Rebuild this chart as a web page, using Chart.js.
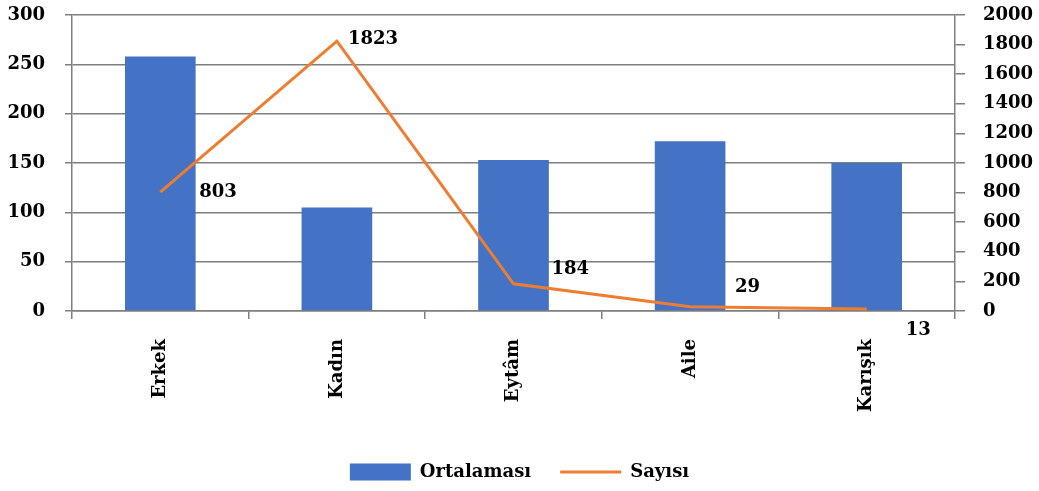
<!DOCTYPE html>
<html>
<head>
<meta charset="utf-8">
<script src="https://cdn.jsdelivr.net/npm/chart.js@4/dist/chart.umd.min.js"></script>
<style>
  body { margin: 0; background: #fff; }
  #wrap { width: 1039px; height: 491px; }
</style>
</head>
<body>
<div id="wrap"><canvas id="chart" width="1039" height="491"></canvas></div>
<script>
const categories = ["Erkek", "Kadın", "Eytâm", "Aile", "Karışık"]
const ortalamasi = [258, 105, 153, 172, 150]
const sayisi = [803, 1823, 184, 29, 13]
const leftTicks = [0, 50, 100, 150, 200, 250, 300]
const rightTicks = [0, 200, 400, 600, 800, 1000, 1200, 1400, 1600, 1800, 2000]

const fontFamily = "'DejaVu Serif', 'Liberation Serif', serif"
const gridGray = "#7f7f7f"

// value labels for the line, nudged like in the original
const lineLabels = {
    id: "lineLabels",
    afterDatasetsDraw(chart, args, opts) {
        const meta = chart.getDatasetMeta(1)
        const ctx = chart.ctx
        ctx.save()
        ctx.font = "bold 18px " + fontFamily
        ctx.fillStyle = "#000"
        ctx.textAlign = "left"
        ctx.textBaseline = "middle"
        meta.data.forEach((pt, i) => {
            const off = opts.offsets[i]
            ctx.fillText(String(sayisi[i]), pt.x + off[0], pt.y + off[1])
        })
        ctx.restore()
    }
}

function fixSide(width) {
    return scale => {
        scale.width = width
        scale.paddingTop = 0
        scale.paddingBottom = 0
    }
}

new Chart(document.getElementById("chart"), {
    data: {
        labels: categories,
        datasets: [{
            type: "bar",
            label: "Ortalaması",
            data: ortalamasi,
            backgroundColor: "#4472C4",
            yAxisID: "y",
            barPercentage: 0.4,
            categoryPercentage: 1,
            pointStyle: "rect",
            order: 2
        },
        {
            type: "line",
            label: "Sayısı",
            data: sayisi,
            borderColor: "#ED7D31",
            backgroundColor: "#ED7D31",
            borderWidth: 3,
            pointRadius: 0,
            pointStyle: "line",
            tension: 0,
            yAxisID: "y1",
            order: 1
        }]
    },
    options: {
        responsive: false,
        animation: false,
        layout: { padding: { top: 15, bottom: 0, left: 0, right: 0 } },
        scales: {
            x: {
                grid: { offset: true, drawOnChartArea: false, color: gridGray, lineWidth: 1.5, tickLength: 8 },
                border: { color: gridGray, width: 1.5 },
                ticks: {
                    maxRotation: 90, minRotation: 90, padding: 20,
                    color: "#000",
                    font: { family: fontFamily, weight: "bold", size: 18 }
                },
                afterFit(scale) { scale.height = 123 }
            },
            y: {
                position: "left",
                min: 0, max: 300,
                afterBuildTicks(scale) { scale.ticks = leftTicks.map(v => ({ value: v })) },
                grid: { color: gridGray, lineWidth: 1.5, tickLength: 7 },
                border: { color: gridGray, width: 1.5 },
                ticks: {
                    padding: 20, color: "#000",
                    font: { family: fontFamily, weight: "bold", size: 18 }
                },
                afterFit: fixSide(72)
            },
            y1: {
                position: "right",
                min: 0, max: 2000,
                afterBuildTicks(scale) { scale.ticks = rightTicks.map(v => ({ value: v })) },
                grid: { drawOnChartArea: false, color: gridGray, lineWidth: 1.5, tickLength: 10 },
                border: { color: gridGray, width: 1.5 },
                ticks: {
                    padding: 18, color: "#000",
                    font: { family: fontFamily, weight: "bold", size: 18 },
                    callback: v => String(v)
                },
                afterFit: fixSide(84)
            }
        },
        plugins: {
            legend: {
                position: "bottom",
                labels: {
                    usePointStyle: true,
                    pointStyleWidth: 61,
                    boxHeight: 17,
                    padding: 29,
                    color: "#000",
                    font: { family: fontFamily, weight: "bold", size: 18 },
                    sort: (a, b) => a.datasetIndex - b.datasetIndex
                }
            },
            tooltip: { enabled: false },
            lineLabels: {
                offsets: [[39, 0], [11, -2], [38, -14], [45, -19], [39, 21]]
            }
        }
    },
    plugins: [lineLabels]
})
</script>
</body>
</html>
